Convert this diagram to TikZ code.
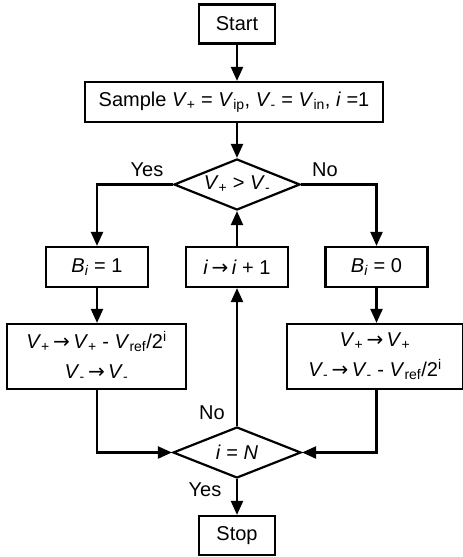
\documentclass[tikz,border=0pt]{standalone}
\usepackage{fontspec}
\setmainfont{Liberation Sans}
\newfontfamily\arrowfont{DejaVu Sans}
\usetikzlibrary{shapes.geometric,arrows.meta}
\newcommand{\vsub}[1]{\textit{V}\textsubscript{#1}}
\newcommand{\goesto}{\,{\arrowfont →}\,}
\begin{document}
\begin{tikzpicture}[
  x=1pt, y=-1pt,
  line width=2.2pt,
  font=\fontsize{20}{30}\selectfont,
  block_box/.style={rectangle, draw, text centered, inner sep=0pt,
    minimum height = 40pt, minimum width = 102pt},
  block_end/.style={block_box, minimum height = 39pt, minimum width = 76pt},
  block_upd/.style={block_box, align=center, minimum height = 65pt},
  block_dec/.style={diamond, draw, aspect=2.45, inner sep=0pt,
    minimum width = 126pt, minimum height = 51pt},
  block_lbl/.style={inner sep=0pt},
  line/.style={draw, -{Triangle[length=14pt,width=12pt]}}
  ]
\useasboundingbox (0,0) rectangle (463,557);

\node [block_end] (start) at (237,24) {Start};
\node [block_box, minimum width = 298pt] (sample) at (234,102)
  {Sample \vsub{+} = \vsub{ip}, \vsub{-} = \vsub{in}, \textit{i} =1};
\node [block_dec] (cmp) at (237,184.5) {\vsub{+} > \vsub{-}};

\node [block_box] (bone) at (97,267) {\textit{B}\textsubscript{\textit{i}} = 1};
\node [block_box] (incr) at (237,267) {\textit{i}\goesto\textit{i} + 1};
\node [block_box] (bzero) at (376.5,267) {\textit{B}\textsubscript{\textit{i}} = 0};

\node [block_upd, minimum width = 179pt] (updone) at (96.5,356.5)
  {\vsub{+}\goesto\vsub{+} - \vsub{ref}/2\textsuperscript{i}\\ \vsub{-}\goesto\vsub{-}};
\node [block_upd, minimum width = 176pt] (updzero) at (375,356.5)
  {\vsub{+}\goesto\vsub{+}\\ \vsub{-}\goesto\vsub{-} - \vsub{ref}/2\textsuperscript{i}};

\node [block_dec, minimum width = 128pt] (last) at (237,452.5) {\textit{i} = \textit{N}};
\node [block_end] (stop) at (237,535.5) {Stop};

\node [block_lbl] (cmpyes) at (147,170) {Yes};
\node [block_lbl] (cmpno) at (325,170) {No};
\node [block_lbl] (lastno) at (212,413) {No};
\node [block_lbl] (lastyes) at (205,490) {Yes};

\path [line] (start) -- (start |- sample.north);
\path [line] (sample.south -| cmp) -- (cmp);
\path [line] (cmp.west) -| (bone);
\path [line] (cmp.east) -| (bzero);
\path [line] (bone) -- (bone |- updone.north);
\path [line] (bzero) -- (bzero |- updzero.north);
\path [line] (updone.south -| bone) |- (last.west);
\path [line] (updzero.south -| bzero) |- (last.east);
\path [line] (last) -- (incr);
\path [line] (incr) -- (cmp);
\path [line] (last) -- (stop);

\end{tikzpicture}
\end{document}
